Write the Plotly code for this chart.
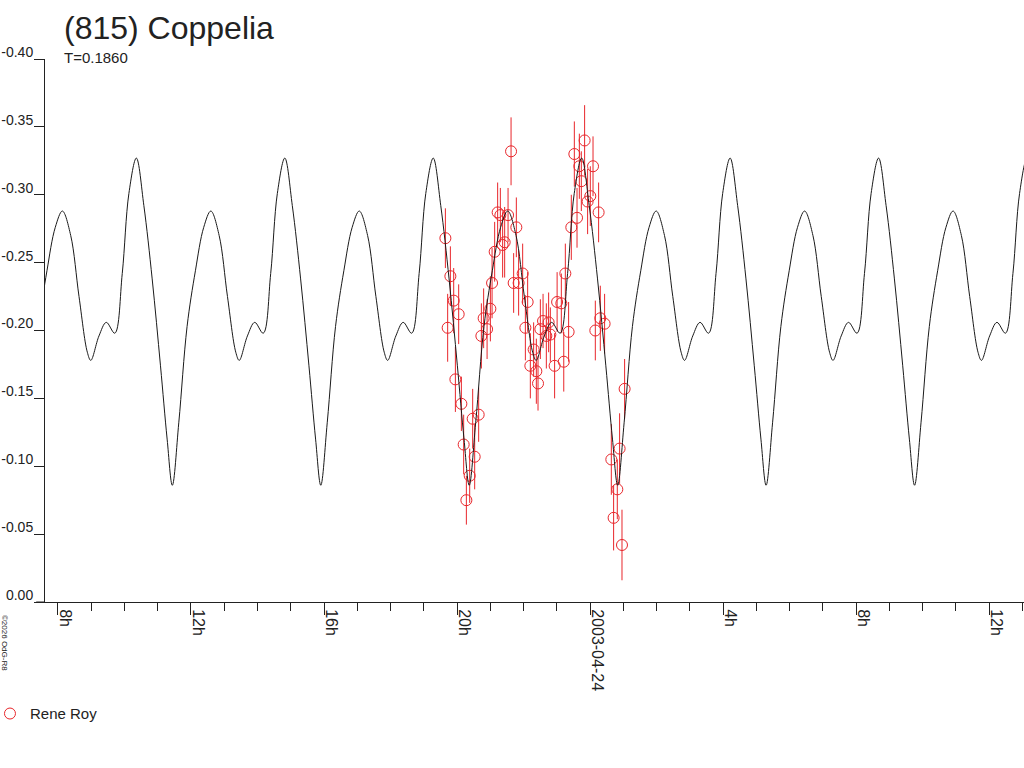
import pandas as pd
import plotly.graph_objects as go

# time in hours after 2003-04-23 00:00 UT, reduced magnitude (brighter = more negative)
obs_hours = [19.650, 19.719, 19.800, 19.900, 19.951, 20.050, 20.131, 20.200, 20.281, 20.381,
             20.471, 20.531, 20.651, 20.732, 20.801, 20.904, 21.003, 21.054, 21.132, 21.222,
             21.303, 21.372, 21.433, 21.535, 21.625, 21.703, 21.784, 21.853, 21.974, 22.055,
             22.124, 22.205, 22.304, 22.385, 22.436, 22.506, 22.587, 22.686, 22.755, 22.806,
             22.935, 23.010, 23.137, 23.210, 23.257, 23.356, 23.437, 23.528, 23.609, 23.678,
             23.738, 23.837, 23.927, 24.008, 24.090, 24.159, 24.258, 24.309, 24.438, 24.640,
             24.709, 24.820, 24.889, 24.961, 25.040]
obs_mag = [-0.268, -0.202, -0.240, -0.222, -0.164, -0.212, -0.146, -0.116, -0.075, -0.093,
           -0.135, -0.107, -0.138, -0.196, -0.209, -0.201, -0.216, -0.235, -0.258, -0.287,
           -0.285, -0.263, -0.265, -0.285, -0.332, -0.235, -0.276, -0.235, -0.242, -0.202,
           -0.221, -0.174, -0.186, -0.170, -0.161, -0.201, -0.207, -0.196, -0.206, -0.197,
           -0.174, -0.221, -0.220, -0.177, -0.242, -0.199, -0.276, -0.330, -0.283, -0.321,
           -0.310, -0.340, -0.295, -0.299, -0.321, -0.200, -0.287, -0.209, -0.205, -0.105,
           -0.062, -0.083, -0.113, -0.042, -0.157]
obs_err = [0.022, 0.025, 0.022, 0.024, 0.024, 0.022, 0.020, 0.022, 0.018, 0.020,
           0.022, 0.024, 0.020, 0.024, 0.022, 0.022, 0.024, 0.026, 0.022, 0.022,
           0.020, 0.024, 0.026, 0.020, 0.025, 0.022, 0.022, 0.024, 0.022, 0.024,
           0.022, 0.024, 0.020, 0.024, 0.020, 0.022, 0.020, 0.024, 0.022, 0.020,
           0.024, 0.022, 0.022, 0.022, 0.022, 0.022, 0.024, 0.024, 0.022, 0.024,
           0.022, 0.026, 0.024, 0.022, 0.022, 0.022, 0.022, 0.024, 0.022, 0.026,
           0.024, 0.022, 0.026, 0.026, 0.022]

# model curve: one rotation (hours after the lesser maximum)
period_h = 4.464
first_max_h = 8.133
phase_h = [0.00, 0.25, 0.50, 0.75, 0.854, 1.10, 1.32, 1.575, 1.80, 2.00,
           2.224, 2.45, 2.70, 2.95, 3.15, 3.306, 3.50, 3.75, 4.00, 4.25]
phase_mag = [-0.288, -0.270, -0.225, -0.184, -0.178, -0.196, -0.206, -0.198, -0.242, -0.301,
             -0.327, -0.292, -0.238, -0.174, -0.120, -0.086, -0.132, -0.203, -0.244, -0.276]

tick_hours = [8, 12, 16, 20, 24, 28, 32, 36]
tick_text = ["8h", "12h", "16h", "20h", "2003-04-24", "4h", "8h", "12h"]
y_ticks = [-0.40, -0.35, -0.30, -0.25, -0.20, -0.15, -0.10, -0.05, 0.00]
y_text = ["-0.40", "-0.35", "-0.30", "-0.25", "-0.20", "-0.15", "-0.10", "-0.05", "0.00"]

base = pd.Timestamp("2003-04-23")


def to_time(hours):
    return base + pd.to_timedelta(pd.Series(hours), unit="h")


model_h, model_m = [], []
for k in range(-1, 8):
    for p, m in zip(phase_h, phase_mag):
        model_h.append(first_max_h + k * period_h + p)
        model_m.append(m)

font = "Liberation Sans, Arial, sans-serif"
red = "#e8262b"

fig = go.Figure()
fig.add_trace(go.Scatter(
    x=to_time(obs_hours), y=obs_mag, mode="markers", name="Rene Roy",
    marker=dict(symbol="circle-open", size=11, color=red, line=dict(width=1)),
    error_y=dict(type="data", array=obs_err, color=red, thickness=1, width=0),
))
fig.add_trace(go.Scatter(
    x=to_time(model_h), y=model_m, mode="lines", showlegend=False,
    line=dict(color="#1a1a1a", width=1, shape="spline", smoothing=1.0),
    hoverinfo="skip",
))

fig.update_layout(
    width=1024, height=768,
    margin=dict(l=45, r=0, t=59, b=166, autoexpand=False),
    paper_bgcolor="white", plot_bgcolor="white",
    font=dict(family=font, color="#222", size=15),
    showlegend=True,
    legend=dict(xref="paper", yref="container", x=-0.0562, y=0.0706,
                xanchor="left", yanchor="middle", itemwidth=30,
                font=dict(size=15, color="#222"), bgcolor="rgba(0,0,0,0)"),
    xaxis=dict(
        range=[base + pd.Timedelta(hours=7.61), base + pd.Timedelta(hours=37.05)],
        tickmode="array", tickvals=to_time(tick_hours), ticktext=tick_text,
        tickangle=90, ticks="outside", ticklen=12, tickcolor="#222",
        tickfont=dict(size=16), ticklabelshift=7, ticklabelstandoff=-9,
        showline=True, linecolor="#222", linewidth=1, automargin=False,
        showgrid=False, zeroline=False,
        minor=dict(tickmode="linear", tick0=base, dtick=3600000,
                   ticks="outside", ticklen=8, tickcolor="#222", showgrid=False),
    ),
    yaxis=dict(
        range=[0.0, -0.40], tickmode="array", tickvals=y_ticks, ticktext=y_text,
        ticks="outside", ticklen=10, tickcolor="#222", tickfont=dict(size=14),
        ticklabelshift=7, ticklabelstandoff=-2, automargin=False,
        showline=True, linecolor="#222", linewidth=1,
        showgrid=False, zeroline=False,
    ),
    annotations=[
        dict(text="(815) Coppelia", xref="paper", yref="paper", x=0.0174, y=1.0,
             yshift=51, xanchor="left", yanchor="top", showarrow=False,
             font=dict(size=32, color="#222")),
        dict(text="T=0.1860", xref="paper", yref="paper", x=0.0174, y=1.0,
             yshift=12, xanchor="left", yanchor="top", showarrow=False,
             font=dict(size=15, color="#222")),
        dict(text="©2026 OdG-R8", xref="paper", yref="paper", x=-0.042, y=-0.02,
             xanchor="center", yanchor="top", textangle=90, showarrow=False,
             font=dict(size=8, color="#222")),
    ],
    shapes=[dict(type="line", xref="paper", yref="paper", x0=-0.009, x1=0, y0=0, y1=0,
                 line=dict(color="#222", width=1))],
)

# page without the default body margin so the figure fills the window
fig.write_html("out.html", config={"displayModeBar": False},
               post_script="document.body.style.margin='0';document.body.style.overflow='hidden';")
